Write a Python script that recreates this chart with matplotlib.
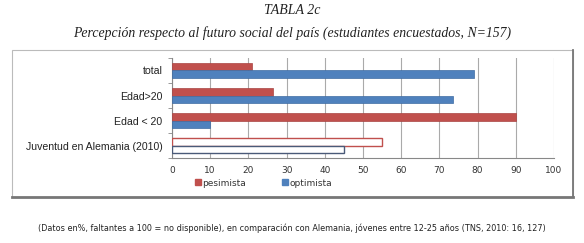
import matplotlib.pyplot as plt
from matplotlib.patches import Rectangle
import numpy as np

# Data (top to bottom)
categories = ["total", "Edad>20", "Edad < 20", "Juventud en Alemania (2010)"]
pesimista = [21, 26.5, 90, 55]
optimista = [79, 73.5, 10, 45]
outline_only = [False, False, False, True]
xticks = [0, 10, 20, 30, 40, 50, 60, 70, 80, 90, 100]

red = "#C0504D"
blue = "#4F81BD"

W, H = 584, 243
fig = plt.figure(figsize=(W / 100, H / 100), dpi=100)

# outer chart frame (pixel coordinates converted to figure fraction)
def px(x, y):
    return x / W, 1 - y / H

x0, y0 = px(12, 197)
x1, y1 = px(573, 50)
fig.patches.append(Rectangle((x0, y0), x1 - x0, y1 - y0, transform=fig.transFigure,
                             facecolor="white", edgecolor="#BBBBBB", lw=0.8, zorder=-5))
fig.add_artist(plt.Line2D([x0, x1], [y0, y0], transform=fig.transFigure, color="#777777", lw=2))
fig.add_artist(plt.Line2D([x1, x1], [y0, y1], transform=fig.transFigure, color="#777777", lw=1.3))

left, top = px(172, 58)
right, bottom = px(554, 158)
ax = fig.add_axes([left, bottom, right - left, top - bottom])
ax.set_zorder(2)
ax.patch.set_visible(False)

n = len(categories)
ypos = np.arange(n)[::-1]
h = 0.3
for i in range(n):
    if outline_only[i]:
        ax.barh(ypos[i] + h / 2, pesimista[i], height=h, facecolor="white", edgecolor=red, lw=1, zorder=3)
        ax.barh(ypos[i] - h / 2, optimista[i], height=h, facecolor="white", edgecolor="#4A5A78", lw=1, zorder=3)
    else:
        ax.barh(ypos[i] + h / 2, pesimista[i], height=h, color=red, edgecolor="#A94442", lw=0.5, zorder=3)
        ax.barh(ypos[i] - h / 2, optimista[i], height=h, color=blue, edgecolor="#3F6CA3", lw=0.5, zorder=3)

ax.set_xlim(0, 100)
ax.set_ylim(-0.5, n - 0.5)
ax.set_xticks(xticks)
ax.set_xticklabels([str(t) for t in xticks], fontsize=6.5, color="#333333", family="DejaVu Sans")
ax.tick_params(axis="x", length=0, pad=6)
ax.set_yticks(ypos)
ax.set_yticklabels(categories, fontsize=7.6, family="Liberation Sans", color="#222222")
ax.set_yticks(np.arange(n + 1) - 0.5, minor=True)
ax.tick_params(axis="y", which="major", length=0, pad=7)
ax.tick_params(axis="y", which="minor", length=3, color="#888888")
ax.grid(axis="x", color="#AAAAAA", lw=0.8, zorder=0)
for s in ["top", "right"]:
    ax.spines[s].set_visible(False)
ax.spines["left"].set_color("#888888")
ax.spines["bottom"].set_color("#888888")

# legend
lx, ly = px(195, 182)
fig.add_artist(Rectangle((lx, ly - 3 / H), 6 / W, 6 / H, transform=fig.transFigure, color=red))
fig.text(lx + 7 / W, ly - 1 / H, "pesimista", fontsize=6.5, va="center", color="#333333", family="DejaVu Sans")
lx2, _ = px(282, 182)
fig.add_artist(Rectangle((lx2, ly - 3 / H), 6 / W, 6 / H, transform=fig.transFigure, color=blue))
fig.text(lx2 + 7 / W, ly - 1 / H, "optimista", fontsize=6.5, va="center", color="#333333", family="DejaVu Sans")

# titles
fig.text(0.5, 1 - 10 / H, "TABLA 2c", ha="center", va="center", fontsize=10,
         family="Liberation Serif", style="italic", color="#222222")
fig.text(0.5, 1 - 33 / H, "Percepción respecto al futuro social del país (estudiantes encuestados, N=157)",
         ha="center", va="center", fontsize=9.9, family="Liberation Serif", style="italic", color="#222222")
fig.text(0.5, 1 - 228 / H,
         "(Datos en%, faltantes a 100 = no disponible), en comparación con Alemania, jóvenes entre 12-25 años (TNS, 2010: 16, 127)",
         ha="center", va="center", fontsize=6.5, family="DejaVu Sans", fontstretch="condensed", color="#222222")

fig.savefig("out.png", dpi=100)
